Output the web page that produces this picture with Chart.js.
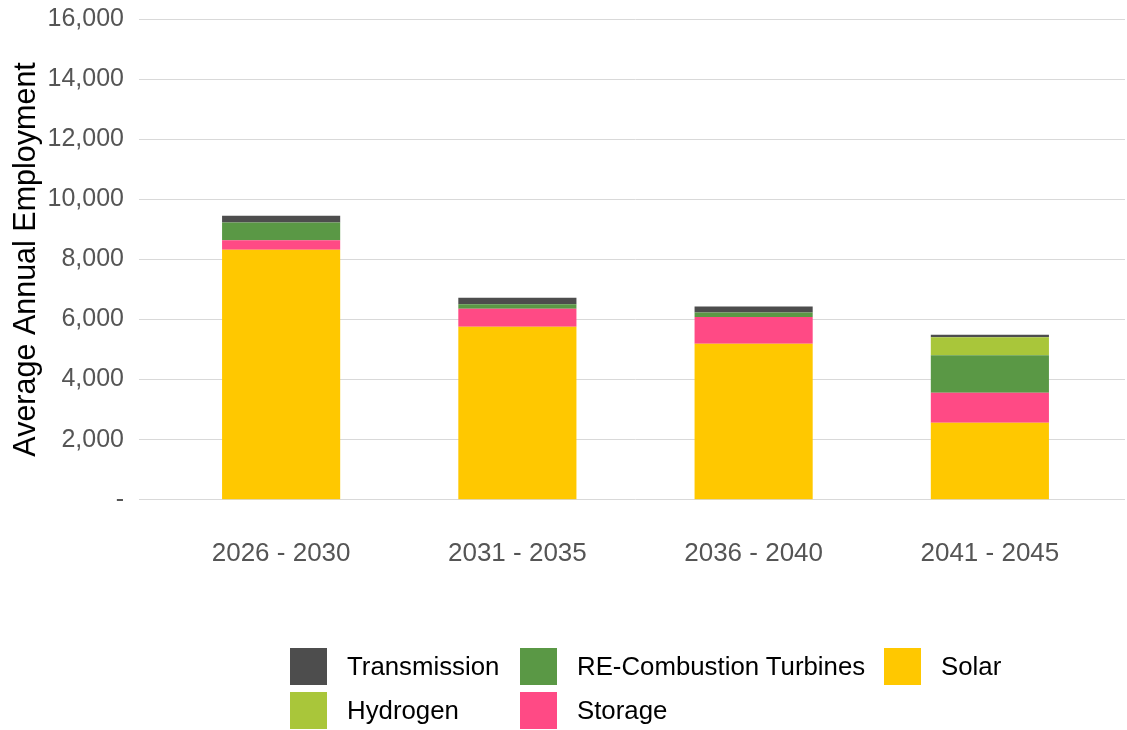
<!DOCTYPE html>
<html>
<head>
<meta charset="utf-8">
<script src="https://cdn.jsdelivr.net/npm/chart.js@4.4.0/dist/chart.umd.min.js"></script>
<style>
  html, body { margin: 0; padding: 0; background: #fff; }
  #wrap { position: relative; width: 1127px; height: 730px; }
  #legend {
    position: absolute; left: 290px; top: 648px;
    display: grid; grid-template-columns: 230px 364px auto;
    row-gap: 7px;
    font-family: "Liberation Sans", Arial, sans-serif; font-size: 25.8px; color: #000;
  }
  .item { display: flex; align-items: center; height: 37px; }
  .box { width: 37px; height: 37px; margin-right: 20px; }
</style>
</head>
<body>
<div id="wrap">
  <canvas id="chart" width="1127" height="730"></canvas>
  <div id="legend"></div>
</div>
<script>
const periods = ['2026 - 2030', '2031 - 2035', '2036 - 2040', '2041 - 2045'];

// stacked bottom to top
const solar        = [8320, 5760, 5190, 2560];
const storage      = [320, 600, 890, 1000];
const reCombustion = [590, 150, 155, 1250];
const hydrogen     = [0, 0, 0, 600];
const transmission = [225, 215, 200, 80];

const legendOrder = ['Transmission', 'RE-Combustion Turbines', 'Solar', 'Hydrogen', 'Storage'];

const gridColor = '#d9d9d9';
const font = 'Liberation Sans';

// carry the horizontal grid lines out to the right edge of the canvas
const gridExtend = {
  id: 'gridExtend',
  beforeDatasetsDraw(chart) {
    const ctx = chart.ctx;
    const y = chart.scales.y;
    ctx.save();
    ctx.strokeStyle = gridColor;
    ctx.lineWidth = 1;
    y.ticks.forEach(t => {
      const py = Math.round(y.getPixelForValue(t.value) - 0.5) + 0.5;
      ctx.beginPath();
      ctx.moveTo(chart.chartArea.right, py);
      ctx.lineTo(chart.width - 2, py);
      ctx.stroke();
    });
    ctx.restore();
  }
};

const chart = new Chart(document.getElementById('chart').getContext('2d'), {
  type: 'bar',
  data: {
    labels: periods,
    datasets: [
      { label: 'Solar', data: solar, backgroundColor: '#ffc800' },
      { label: 'Storage', data: storage, backgroundColor: '#ff4a85' },
      { label: 'RE-Combustion Turbines', data: reCombustion, backgroundColor: '#5a9845' },
      { label: 'Hydrogen', data: hydrogen, backgroundColor: '#a9c63a' },
      { label: 'Transmission', data: transmission, backgroundColor: '#4d4d4d' }
    ]
  },
  options: {
    responsive: false,
    animation: false,
    layout: { padding: { top: 19, right: 19, bottom: 123, left: 0 } },
    datasets: { bar: { barPercentage: 0.5, categoryPercentage: 1.0 } },
    plugins: { legend: { display: false }, tooltip: { enabled: false } },
    scales: {
      x: {
        stacked: true,
        grid: { display: false, drawTicks: false },
        border: { display: false },
        ticks: { padding: 38, color: '#555', font: { family: font, size: 26 } }
      },
      y: {
        stacked: true,
        min: 0, max: 16000,
        afterFit(scale) {
          scale.width = 163;
          scale.paddingTop = 0;
          scale.paddingBottom = 0;
        },
        grid: { color: gridColor, drawTicks: true, tickLength: 24 },
        border: { display: false },
        ticks: {
          stepSize: 2000, padding: 15, color: '#555',
          font: { family: font, size: 25 },
          callback: v => v === 0 ? '-' : v.toLocaleString('en-US')
        },
        title: {
          display: true, text: 'Average Annual Employment', color: '#000',
          font: { family: font, size: 30.5 }, padding: { top: 8, bottom: 0 }
        }
      }
    }
  },
  plugins: [gridExtend]
});

// legend laid out in columns
const legendEl = document.getElementById('legend');
legendOrder.forEach(name => {
  const ds = chart.data.datasets.find(d => d.label === name);
  const item = document.createElement('div');
  item.className = 'item';
  const box = document.createElement('span');
  box.className = 'box';
  box.style.background = ds.backgroundColor;
  const txt = document.createElement('span');
  txt.textContent = name;
  item.appendChild(box);
  item.appendChild(txt);
  legendEl.appendChild(item);
});
</script>
</body>
</html>
